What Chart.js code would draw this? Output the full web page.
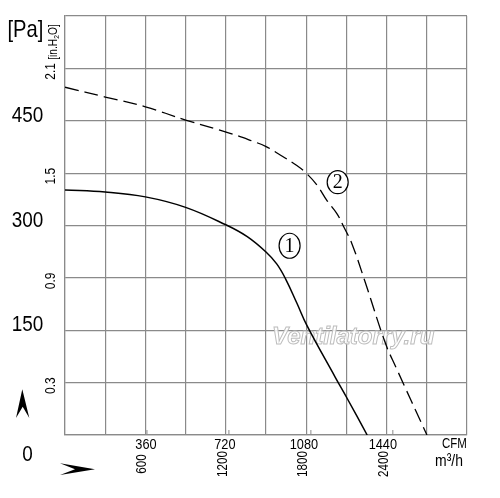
<!DOCTYPE html>
<html>
<head>
<meta charset="utf-8">
<script src="https://cdn.jsdelivr.net/npm/chart.js@4.4.1/dist/chart.umd.min.js"></script>
<style>
  html, body { margin: 0; padding: 0; background: #fff; }
  #wrap { width: 500px; height: 498px; }
</style>
</head>
<body>
<div id="wrap"><canvas id="c" width="500" height="498"></canvas></div>
<script>
// ---- data (airflow m3/h, static pressure Pa) ----
const flow1 = [0, 300, 600, 900, 1200, 1360, 1500, 1580, 1645, 1730, 1805, 2016, 2104, 2255];
const pa1   = [351, 348, 341, 326, 301, 284, 262, 245, 224, 189, 157, 83, 53, 0];
const flow2 = [0, 300, 600, 900, 1232, 1382, 1501, 1606, 1730, 1800, 1880, 1954, 2029, 2078, 2141, 2240, 2390, 2472, 2701];
const pa2   = [498, 484, 470, 451, 432, 422, 413, 401, 386, 375, 358, 336, 317, 299, 274, 219, 132, 96, 0];

// ---- tick labels ----
const paTicks = [0, 150, 300, 450];
const inH2OTicks = ['0.3', '0.9', '1.5', '2.1'];
const m3hTicks = [600, 1200, 1800, 2400];
const cfmTicks = [360, 720, 1080, 1440];
const curveTags = ['1', '2'];
const tagFlow = [1676, 2035];
const tagPa = [271, 362];

const X_MAX = 3000, Y_MAX = 600;
const M3H_PER_CFM = 1.699;
const PA_PER_INH2O = 250;
const FONT = "'Liberation Sans Narrow','Arial Narrow','Liberation Sans',Arial,sans-serif";
const GRID = '#8a8a8a';

function pts(xs, ys) { return xs.map((x, i) => ({ x: x, y: ys[i] })); }

// draw condensed text (optionally rotated)
function txt(ctx, text, x, y, size, sx, align, rot) {
  ctx.save();
  ctx.translate(x, y);
  if (rot) ctx.rotate(-Math.PI / 2);
  ctx.scale(sx, 1);
  ctx.font = size + 'px ' + FONT;
  ctx.textAlign = align || 'center';
  ctx.textBaseline = 'middle';
  ctx.fillText(text, 0, 0);
  ctx.restore();
}

const watermark = {
  id: 'watermark',
  beforeDatasetsDraw(chart) {
    const ctx = chart.ctx, xs = chart.scales.x, ys = chart.scales.y;
    ctx.save();
    ctx.font = "italic bold 24px 'Liberation Sans', Arial, sans-serif";
    ctx.textAlign = 'left';
    ctx.textBaseline = 'alphabetic';
    const x = xs.getPixelForValue(1545), y = ys.getPixelForValue(130);
    ctx.fillStyle = 'rgba(255,255,255,0.85)';
    ctx.fillText('Ventilatorry.ru', x, y);
    ctx.lineWidth = 1;
    ctx.strokeStyle = '#bdbdbd';
    ctx.strokeText('Ventilatorry.ru', x, y);
    ctx.restore();
  }
};

const decor = {
  id: 'decor',
  afterDraw(chart) {
    const ctx = chart.ctx, xs = chart.scales.x, ys = chart.scales.y;
    const a = chart.chartArea;
    ctx.save();
    ctx.fillStyle = '#000';

    // Pa labels
    paTicks.forEach(v => {
      const y = ys.getPixelForValue(v) + (v === 0 ? 20 : -5);
      txt(ctx, String(v), a.left - 37.5, y, 22, 0.86, 'center', false);
    });
    // [Pa]
    txt(ctx, '[Pa]', a.left - 57.5, a.top + 14, 24, 0.84, 'left', false);

    // in.H2O labels
    inH2OTicks.forEach(t => {
      const y = ys.getPixelForValue(parseFloat(t) * PA_PER_INH2O) + 3;
      txt(ctx, t, a.left - 14, y, 15, 0.8, 'center', true);
    });
    // [in.H2O]
    ctx.save();
    ctx.translate(a.left - 11, a.top + 26);
    ctx.rotate(-Math.PI / 2);
    ctx.scale(0.85, 1);
    ctx.textBaseline = 'middle';
    ctx.textAlign = 'left';
    const parts = [['[in.H', 12, 0], ['2', 8, 3], ['O]', 12, 0]];
    let total = 0;
    parts.forEach(p => { ctx.font = p[1] + 'px ' + FONT; total += ctx.measureText(p[0]).width; });
    let cx = -total / 2;
    parts.forEach(p => {
      ctx.font = p[1] + 'px ' + FONT;
      ctx.fillText(p[0], cx, p[2]);
      cx += ctx.measureText(p[0]).width;
    });
    ctx.restore();

    // CFM labels and tick marks
    ctx.lineWidth = 1;
    ctx.strokeStyle = GRID;
    cfmTicks.forEach((v, i) => {
      const x = xs.getPixelForValue(v * M3H_PER_CFM);
      ctx.beginPath();
      ctx.moveTo(x, a.bottom);
      ctx.lineTo(x, a.bottom - 5);
      ctx.stroke();
      txt(ctx, String(v), x - 1 - 3 * i, a.bottom + 10, 15, 0.85, 'center', false);
    });
    // m3/h labels rotated
    m3hTicks.forEach(v => {
      const x = xs.getPixelForValue(v) - 3;
      txt(ctx, String(v), x, a.bottom + 29, 14.5, 0.8, 'center', true);
    });
    // unit labels
    txt(ctx, 'CFM', a.right - 12.5, a.bottom + 9, 14, 0.82, 'center', false);
    txt(ctx, 'm\u00B3/h', a.right - 18, a.bottom + 26, 17, 0.82, 'center', false);

    // axis arrows
    ctx.fillStyle = '#000';
    ctx.beginPath();
    ctx.moveTo(a.left - 42.7, a.bottom - 45.7);
    ctx.lineTo(a.left - 35.7, a.bottom - 17);
    ctx.lineTo(a.left - 42.3, a.bottom - 28.3);
    ctx.lineTo(a.left - 49, a.bottom - 17);
    ctx.closePath();
    ctx.fill();
    ctx.beginPath();
    ctx.moveTo(a.left + 30, a.bottom + 34.3);
    ctx.lineTo(a.left - 5, a.bottom + 40);
    ctx.lineTo(a.left + 10, a.bottom + 34.3);
    ctx.lineTo(a.left - 5, a.bottom + 28.3);
    ctx.closePath();
    ctx.fill();

    // curve tags
    ctx.strokeStyle = '#000';
    ctx.lineWidth = 1.2;
    curveTags.forEach((t, i) => {
      const x = xs.getPixelForValue(tagFlow[i]), y = ys.getPixelForValue(tagPa[i]);
      ctx.beginPath();
      ctx.ellipse(x, y, 10.5, i === 0 ? 12.5 : 11.5, 0, 0, Math.PI * 2);
      ctx.fillStyle = '#fff';
      ctx.fill();
      ctx.stroke();
      ctx.fillStyle = '#000';
      ctx.font = "20px 'Liberation Serif', 'DejaVu Serif', serif";
      ctx.textAlign = 'center';
      ctx.textBaseline = 'middle';
      ctx.fillText(t, x, y + 1);
    });
    ctx.restore();
  }
};

new Chart(document.getElementById('c'), {
  type: 'line',
  data: {
    datasets: [
      {
        label: '1',
        data: pts(flow1, pa1),
        borderColor: '#000',
        borderWidth: 1.5,
        pointRadius: 0,
        fill: false,
        tension: 0.4
      },
      {
        label: '2',
        data: pts(flow2, pa2),
        borderColor: '#000',
        borderWidth: 1.3,
        borderDash: [14, 6],
        pointRadius: 0,
        fill: false,
        tension: 0.4
      }
    ]
  },
  options: {
    responsive: false,
    animation: false,
    events: [],
    layout: { padding: { left: 65, top: 16, right: 33, bottom: 63 } },
    plugins: { legend: { display: false }, tooltip: { enabled: false } },
    scales: {
      x: {
        type: 'linear', min: 0, max: X_MAX,
        ticks: { stepSize: 300, display: false },
        grid: { color: GRID, lineWidth: 1.2, drawTicks: false },
        border: { color: GRID, width: 1.2 }
      },
      y: {
        type: 'linear', min: 0, max: Y_MAX,
        ticks: { stepSize: 75, display: false },
        grid: { color: GRID, lineWidth: 1.2, drawTicks: false },
        border: { color: GRID, width: 1.2 }
      }
    }
  },
  plugins: [watermark, decor]
});
</script>
</body>
</html>
